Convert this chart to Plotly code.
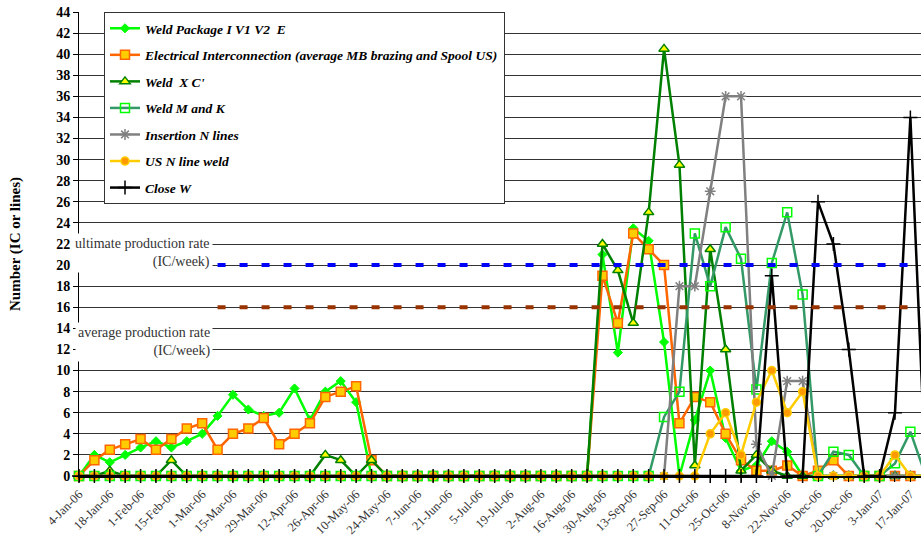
import plotly.graph_objects as go

# ---- data (weekly, week 0 = 4-Jan-06) ----
weeks = list(range(56))

tick_labels = ["4-Jan-06", "18-Jan-06", "1-Feb-06", "15-Feb-06", "1-Mar-06", "15-Mar-06",
               "29-Mar-06", "12-Apr-06", "26-Apr-06", "10-May-06", "24-May-06", "7-Jun-06",
               "21-Jun-06", "5-Jul-06", "19-Jul-06", "2-Aug-06", "16-Aug-06", "30-Aug-06",
               "13-Sep-06", "27-Sep-06", "11-Oct-06", "25-Oct-06", "8-Nov-06", "22-Nov-06",
               "6-Dec-06", "20-Dec-06", "3-Jan-07", "17-Jan-07"]

weld_package = [0, 2, 1.3, 2, 2.7, 3.3, 2.7, 3.3, 4, 5.7, 7.7, 6.3, 5.7, 6, 8.3, 5.3, 8, 9, 7, 0,
                0, 0, 0, 0, 0, 0, 0, 0, 0, 0, 0, 0, 0, 0,
                21, 11.7, 23.5, 22.3, 12.7, 0, 5.3, 10, 3.6, 0.5, 1.0, 3.3, 2.3, 0,
                0, 0, 0, 0, 0, 0, 0, 0]

electrical = [0, 1.5, 2.5, 3, 3.5, 2.5, 3.5, 4.5, 5, 2.5, 4, 4.5, 5.5, 3, 4, 5, 7.5, 8, 8.5, 1.5,
              0, 0, 0, 0, 0, 0, 0, 0, 0, 0, 0, 0, 0, 0,
              19, 14.5, 23, 21.5, 20, 5, 7.5, 7, 4, 1.5, 0.5, 0.5, 1, 0,
              0.5, 1.5, 0, 0, 0, 0, 0, 0]

weld_xc = [0, 0, 0.5, 0, 0, 0, 1.5, 0, 0, 0, 0, 0, 0, 0, 0, 0, 2, 1.5, 0, 1.5,
           0, 0, 0, 0, 0, 0, 0, 0, 0, 0, 0, 0, 0, 0,
           22, 19.5, 14.5, 25, 40.5, 29.5, 1, 21.5, 12, 0.5, 2, 0.5, 0, 0,
           0, 0, 0, 0, 0, 0, 0, 0]

weld_mk = [0] * 38 + [5.6, 8, 23, 18, 23.6, 20.6, 8.2, 20.2, 25, 17.2,
                      0, 2.3, 2, 0, 0, 1.2, 4.2, 0]

insertion = [0] * 39 + [18, 18, 27, 36, 36, 3, 0, 9, 9,
                        0, 0, 0, 0, 0, 0, 0, 0]

us_weld = [0] * 41 + [4, 6, 2, 7, 10, 6, 8,
                      0, 0, 0, 0, 0, 2, 0, 0]

close_w = [0] * 45 + [19, 0, 0,
                      26, 22, 12, 0, 0, 6, 34, 0]

rate_weeks = list(range(9, 55))
ultimate_rate = [20] * len(rate_weeks)
average_rate = [16] * len(rate_weeks)

SERIF = "Liberation Serif"

series = [
    ("Weld Package I V1 V2  E", weld_package, "#00FF00",
     dict(symbol="diamond", size=7, color="#00FF00", line=dict(color="#00FF00", width=1))),
    ("Electrical Interconnection (average MB brazing and Spool US)", electrical, "#FF6600",
     dict(symbol="square", size=9, color="#FFCC00", line=dict(color="#FF6600", width=1.5))),
    ("Weld  X C'", weld_xc, "#008000",
     dict(symbol="triangle-up", size=9, color="#FFFF00", line=dict(color="#008000", width=1.5))),
    ("Weld M and K", weld_mk, "#339966",
     dict(symbol="square-open", size=9, color="#00FF00", line=dict(color="#00FF00", width=1.5))),
    ("Insertion N lines", insertion, "#808080",
     dict(symbol="asterisk-open", size=9, color="#808080", line=dict(color="#808080", width=1.5))),
    ("US N line weld", us_weld, "#FFCC00",
     dict(symbol="circle", size=8, color="#FF9900", line=dict(color="#FFCC00", width=1.5))),
    ("Close W", close_w, "#000000",
     dict(symbol="cross-thin-open", size=10, color="#000000", line=dict(color="#000000", width=1.5))),
]

fig = go.Figure()
for i, (name, vals, col, mk) in enumerate(series):
    fig.add_trace(go.Scatter(
        x=weeks, y=vals, name=name, mode="lines+markers",
        line=dict(color=col, width=2.5), marker=mk,
        legendgroup=f"g{i}", cliponaxis=False,
    ))

fig.add_trace(go.Scatter(x=rate_weeks, y=ultimate_rate, mode="lines", showlegend=False,
                         line=dict(color="#0000FF", width=4, dash="8px,14px")))
fig.add_trace(go.Scatter(x=rate_weeks, y=average_rate, mode="lines", showlegend=False,
                         line=dict(color="#993300", width=4, dash="8px,14px")))

tickvals = weeks[:55]
ticktext = [tick_labels[w // 2] if w % 2 == 0 else "" for w in tickvals]

fig.update_layout(
    width=921, height=543,
    margin=dict(l=79, r=0, t=12, b=67),
    paper_bgcolor="white", plot_bgcolor="white",
    font=dict(family=SERIF, color="#000"),
    xaxis=dict(range=[0, 54.69], tickmode="array", tickvals=tickvals, ticktext=ticktext,
               tickangle=-45, ticks="outside", ticklen=4, tickcolor="#000", automargin=False,
               showline=True, linecolor="#000", linewidth=2, showgrid=False, zeroline=False,
               tickfont=dict(family=SERIF, size=12.5, color="#333")),
    yaxis=dict(range=[0, 44], dtick=2, tick0=0, showgrid=True, gridcolor="#333", gridwidth=1,
               showline=True, linecolor="#000", linewidth=1, ticks="outside", ticklen=5,
               tickcolor="#000", zeroline=False, automargin=False,
               tickfont=dict(family=SERIF, size=14, color="#000", weight="bold")),
    legend=dict(x=(104 - 79) / 842, y=1, xanchor="left", yanchor="top",
                bgcolor="white", bordercolor="#333", borderwidth=1,
                tracegroupgap=6,
                font=dict(family=SERIF, size=13.5, color="#000", weight="bold", style="italic")),
    showlegend=True,
)

fig.add_annotation(text="<b>Number (IC or lines)</b>", textangle=-90, xref="paper", yref="paper",
                   x=(15 - 79) / 842, y=0.5, xanchor="center", yanchor="middle", showarrow=False,
                   font=dict(family=SERIF, size=15, color="#000"))
fig.add_annotation(text="ultimate production rate<br>(IC/week)", xref="paper", yref="y",
                   x=(213 - 79) / 842, y=21.1, xanchor="right", yanchor="middle", align="right",
                   showarrow=False, bgcolor="white", borderpad=2,
                   font=dict(family=SERIF, size=14, color="#333"))
fig.add_annotation(text="average production rate<br>(IC/week)", xref="paper", yref="y",
                   x=(213 - 79) / 842, y=12.7, xanchor="right", yanchor="middle", align="right",
                   showarrow=False, bgcolor="white", borderpad=2,
                   font=dict(family=SERIF, size=14, color="#333"))

# remove the browser's default 8px page margin so the figure fills the window exactly
fig.write_html("out.html", config={"displayModeBar": False},
               post_script="document.body.style.margin='0';")
